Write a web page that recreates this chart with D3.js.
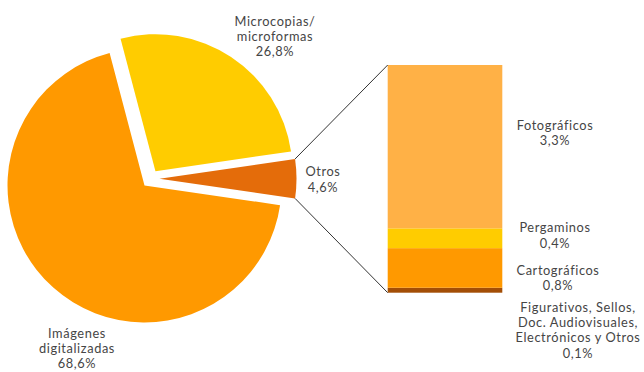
<!DOCTYPE html>
<html><head><meta charset="utf-8">
<script src="https://cdn.jsdelivr.net/npm/d3@7"></script>
<style>
html,body{margin:0;padding:0;background:#fff;}
svg{display:block;}
text{font-family:Lato,sans-serif;font-size:12.8px;fill:#454545;letter-spacing:0.6px;}
</style></head><body>
<svg id="chart" width="644" height="372"></svg>
<script>
// ---- data ----
const pieLabels = ["Microcopias/\nmicroformas", "Otros", "Imágenes\ndigitalizadas"];
const pieValues = [26.8, 4.6, 68.6];
const pieColors = ["#FFCC00", "#E46C0A", "#FF9900"];
const barLabels = ["Figurativos, Sellos,\nDoc. Audiovisuales,\nElectrónicos y Otros", "Cartográficos", "Pergaminos", "Fotográficos"];
const barValues = [0.1, 0.8, 0.4, 3.3];
const barColors = ["#A34E06", "#FF9900", "#FFCC00", "#FFB146"];
const fmt = v => d3.format(".1f")(v).replace(".", ",") + "%";

const svg = d3.select("#chart");
const cx = 150.5, cy = 178.7, R = 137, explode = 9;
const total = d3.sum(pieValues);
const otrosIdx = 1;
const before = d3.sum(pieValues.slice(0, otrosIdx)) + pieValues[otrosIdx] / 2;
const start = Math.PI / 2 - 2 * Math.PI * before / total;

const pie = d3.pie().sort(null).value(d => d).startAngle(start).endAngle(start + 2 * Math.PI);
const arcs = pie(pieValues);
const arc = d3.arc().innerRadius(0).outerRadius(R);

const off = a => { const m = (a.startAngle + a.endAngle) / 2; return [explode * Math.sin(m), -explode * Math.cos(m)]; };

const g = svg.append("g").attr("transform", `translate(${cx},${cy})`);
g.selectAll("path").data(arcs).join("path")
  .attr("d", arc)
  .attr("fill", (d, i) => pieColors[i])
  .attr("transform", d => { const o = off(d); return `translate(${o[0]},${o[1]})`; });

// ---- bar ----
const barX0 = 387.7, barX1 = 502.3;
const y = d3.scaleLinear().domain([0, d3.sum(barValues)]).range([292.7, 65]);
let acc = 0;
const stacks = barValues.map(v => { const s = { y0: acc, y1: acc + v }; acc += v; return s; });
svg.append("g").selectAll("rect").data(stacks).join("rect")
  .attr("x", barX0).attr("width", barX1 - barX0)
  .attr("y", d => y(d.y1)).attr("height", d => y(d.y0) - y(d.y1))
  .attr("fill", (d, i) => barColors[i]);

// ---- connectors ----
const oa = arcs[otrosIdx], oo = off(oa);
const pt = ang => [cx + oo[0] + R * Math.sin(ang), cy + oo[1] - R * Math.cos(ang)];
const pTop = pt(oa.startAngle), pBot = pt(oa.endAngle);
svg.append("line").attr("x1", pTop[0]).attr("y1", pTop[1]).attr("x2", barX0).attr("y2", y(d3.sum(barValues)))
  .attr("stroke", "#333").attr("stroke-width", 1);
svg.append("line").attr("x1", pBot[0]).attr("y1", pBot[1]).attr("x2", barX0).attr("y2", y(0))
  .attr("stroke", "#333").attr("stroke-width", 1);

// ---- labels ----
function label(x, yTop, lines) {
  lines.forEach((l, i) => svg.append("text").attr("text-anchor", "middle")
    .attr("x", x).attr("y", yTop + 4.6 + i * 15.4).text(l));
}
const pieLabelPos = [[275, 21], [323, 171.5], [77, 333]];
pieLabels.forEach((l, i) => label(pieLabelPos[i][0], pieLabelPos[i][1], l.split("\n").concat([fmt(pieValues[i])])));
const barLabelPos = [[578, 307], [558, 270], [555, 227.5], [555, 125]];
barLabels.forEach((l, i) => label(barLabelPos[i][0], barLabelPos[i][1], l.split("\n").concat([fmt(barValues[i])])));
</script>
</body></html>
